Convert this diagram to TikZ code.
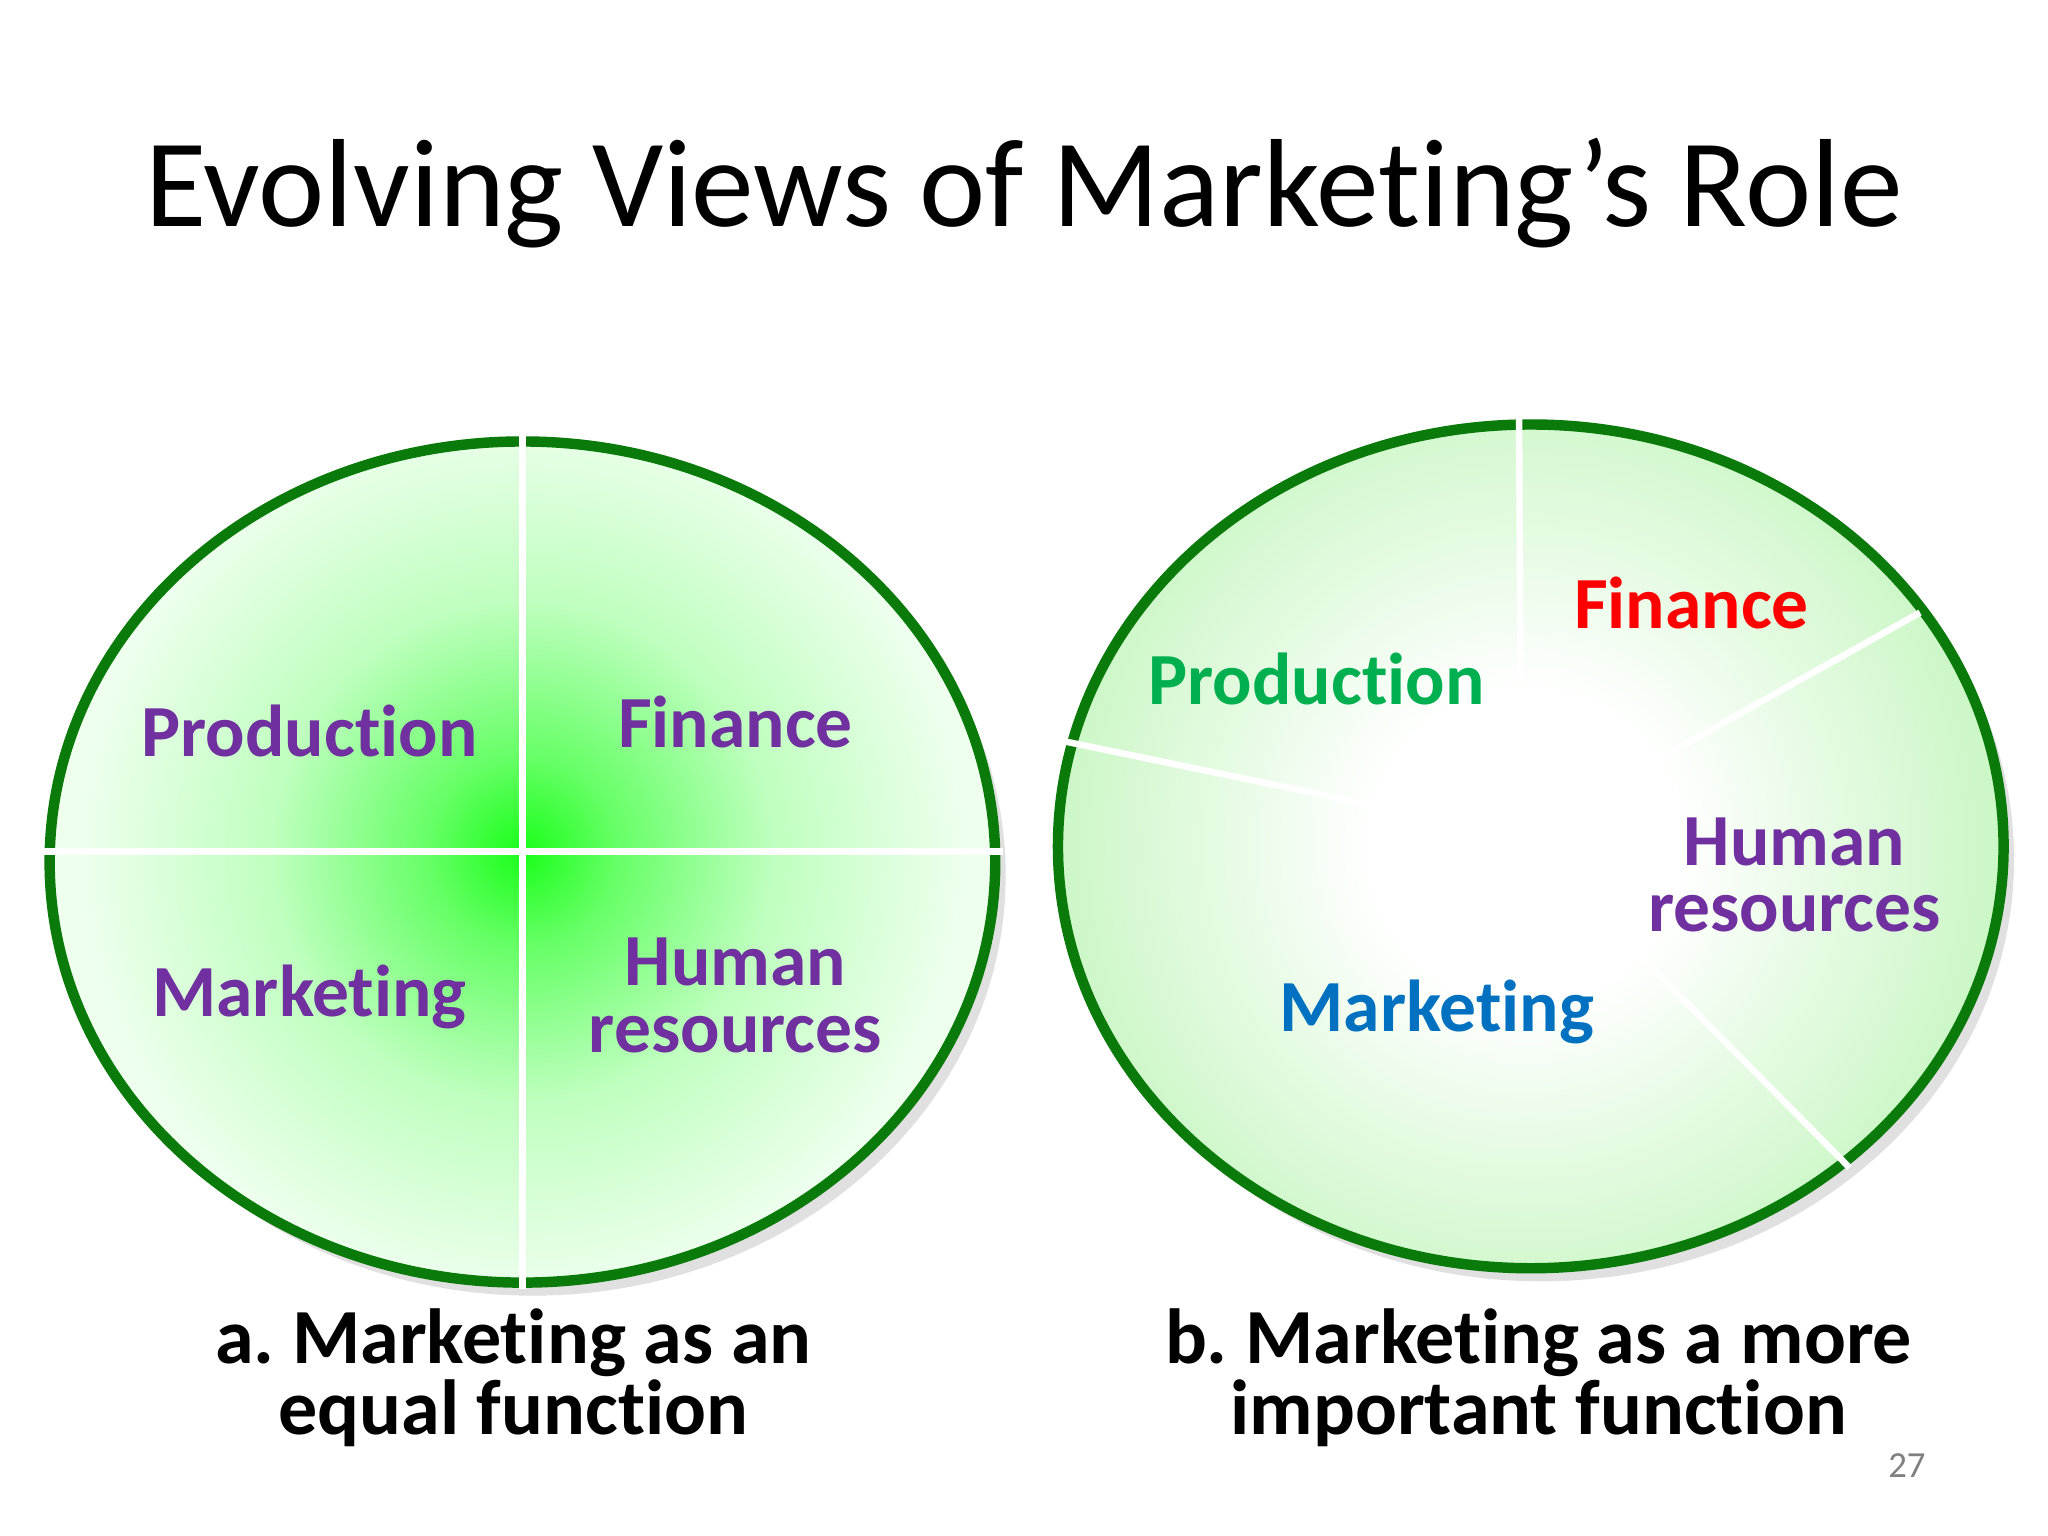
\documentclass[tikz,border=0pt]{standalone}
\usepackage{fontspec}
\setmainfont{Carlito}[Ligatures=NoCommon]
\frenchspacing
\definecolor{pur}{HTML}{7030A0}
\definecolor{dg}{HTML}{0A7A0A}
\definecolor{lg}{HTML}{C2F5BC}
\definecolor{prodg}{HTML}{00B050}
\definecolor{mblue}{HTML}{0070C0}
\pgfdeclareradialshading{gw}{\pgfpoint{0bp}{0bp}}{color(0bp)=(green!90!white); color(3bp)=(green!60!white); color(8bp)=(green!25!white); color(14bp)=(green!7!white); color(22bp)=(green!2!white); color(50bp)=(white)}
\pgfdeclareradialshading{wg}{\pgfpoint{0bp}{0bp}}{color(0bp)=(white); color(7bp)=(white); color(24bp)=(lg); color(50bp)=(lg)}
\tikzset{lab/.style={font=\fontsize{16}{14.5}\selectfont\bfseries, align=center},
 captxt/.style={font=\fontsize{17}{15.5}\selectfont\bfseries, align=center, text=black},
 rim/.style={draw=dg, line width=0.08cm},
 div/.style={white, line width=0.05cm}}
\begin{document}
\begin{tikzpicture}[x=0.01cm,y=-0.01cm]
\useasboundingbox[fill=white] (0,0) rectangle (1568,1176);
\node (title) at (784,148) {\fontsize{27.3}{27}\selectfont Evolving Views of Marketing’s Role};
% left
\fill[black!12] (408,670) ellipse [x radius=362, y radius=322];
\begin{scope}
\clip (400,660) ellipse [x radius=362, y radius=322];
\shade[shading=gw] (400,652) circle [radius=600];
\end{scope}
\draw[div] (400,338) -- (400,982);
\draw[div] (38,652) -- (762,652);
\draw[rim] (400,660) ellipse [x radius=362, y radius=322];
\draw[div] (400,333) -- (400,347) (400,973) -- (400,987) (32,652) -- (46,652) (754,652) -- (768,652);
\node[lab,text=pur] (p1) at (237,560) {Production};
\node[lab,text=pur] (f1) at (563,553) {Finance};
\node[lab,text=pur] (m1) at (237,763) {Marketing};
\node[lab,text=pur] (h1) at (563,762) {Human\\resources};
\node[captxt] (c1) at (393,1055) {a. Marketing as an\\equal function};
% right
\fill[black!12] (1180,658) ellipse [x radius=362, y radius=323];
\begin{scope}
\clip (1172,648) ellipse [x radius=362, y radius=323];
\shade[shading=wg] (1168,648) circle [radius=420];
\end{scope}
\coordinate (rc) at (1165,640);
\draw[rim] (1172,648) ellipse [x radius=362, y radius=323];
\draw[div] (rc) -- (1163,320);
\draw[div] (rc) -- (1470,469);
\draw[div] (rc) -- (1416,894);
\draw[div] (rc) -- (812,567);
\node[lab,text=prodg] (p2) at (1008,520) {Production};
\node[lab,text=red] (f2) at (1295,462) {Finance};
\node[lab,text=mblue] (m2) at (1100,775) {Marketing};
\node[lab,text=pur] (h2) at (1374,670) {Human\\resources};
\node[captxt] (c2) at (1178,1055) {b. Marketing as a more\\important function};
\node[text=black!50, font=\fontsize{8}{8}\selectfont] (pg) at (1460,1122) {27};
\end{tikzpicture}
\end{document}
